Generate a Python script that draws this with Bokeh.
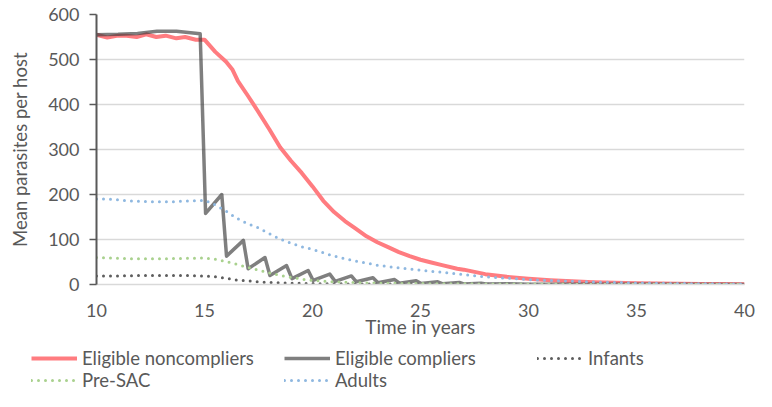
from bokeh.plotting import figure
from bokeh.models import Range1d, FixedTicker, Legend, LegendItem
from bokeh.layouts import column, row
from bokeh.embed import file_html
from bokeh.resources import INLINE

# ---------------- data ----------------
t_noncomp = [10, 10.5, 11, 11.4, 11.86, 12.3, 12.77, 13.2, 13.7, 14.1, 14.6, 15, 15.5, 16, 16.3,
             16.55, 17, 17.3, 18, 18.5, 19, 19.5, 20, 20.5, 21, 21.5, 22, 22.5, 23, 23.5, 24,
             24.5, 25, 25.5, 26, 26.7, 27, 28, 29, 30, 31, 32, 33, 34, 35, 36, 37, 38, 39, 40]
noncomp = [555, 549, 553, 553, 550, 556, 550, 553, 547, 550, 544, 544, 517, 495, 477,
           452, 420, 398, 345, 305, 275, 248, 218, 186, 161, 141, 124, 107, 94, 83, 72,
           63, 55, 49, 43, 35, 33, 23, 17, 13, 9.5, 7, 5, 4, 3, 2.3, 1.8, 1.3, 1, 0.8]

t_comp = [10, 11, 11.9, 12.8, 13.7, 14.8, 15.05, 15.8, 16.02, 16.8, 17.02, 17.8, 18.03, 18.8,
          19.05, 19.8, 20.03, 20.8, 21.05, 21.8, 22.03, 22.8, 23.03, 23.8, 24.03, 24.8, 25.03,
          25.8, 26.03, 26.8, 27.03, 27.8, 28.03, 29, 30, 32, 35, 40]
comp = [555, 556, 558, 563, 563, 557, 158, 200, 63, 98, 35, 60, 20, 42,
        13, 31, 9, 23, 7, 19, 6, 15, 4, 11, 3, 8.5, 2,
        6, 1.5, 4.5, 1, 3, 1, 1.5, 0.8, 0.5, 0.3, 0.2]

t_inf = [10, 11, 12, 13, 14, 15, 15.5, 16, 16.5, 17, 17.5, 18, 19, 20, 22, 25, 30, 35, 40]
infants = [19, 19, 20, 20, 20, 19, 17, 14, 10, 8, 6, 4.5, 3, 2, 1.2, 0.8, 0.5, 0.3, 0.2]

t_presac = [10, 11, 12, 13, 14, 15, 15.5, 16, 16.5, 17, 17.5, 18, 18.5, 19, 19.5, 20, 21, 22,
            23, 24, 25, 27, 30, 35, 40]
presac = [60, 58, 57, 57, 58, 59, 56, 51, 45, 38, 32, 26, 20, 16, 12, 9, 6, 4,
          3, 2.5, 2, 1.5, 1, 0.5, 0.3]

t_adult = [10, 10.5, 11, 11.5, 12, 12.5, 13, 13.5, 14, 14.5, 15, 15.5, 16, 16.5, 17, 17.5, 18,
           18.5, 19, 19.5, 20, 21, 22, 23, 24, 25, 26, 27, 28, 29, 30, 31, 32, 33, 34, 35, 36,
           37, 38, 39, 40]
adults = [190, 190, 188, 186, 185, 184, 184, 184, 185, 186, 187, 177, 163, 147, 135, 126, 113,
          101, 92, 84, 78, 63, 52, 43, 37, 32, 27, 22, 17, 14, 11, 9, 7, 5.5, 4.5, 3.5, 2.8,
          2.2, 1.7, 1.3, 1]

x_ticks = [10, 15, 20, 25, 30, 35, 40]
y_ticks = [0, 100, 200, 300, 400, 500, 600]

FONT = "Lato"
TXT = "#595959"

STYLES = {
    "Eligible noncompliers": dict(line_color="#FF7C80", line_width=4, line_join="round"),
    "Eligible compliers": dict(line_color="#3A3A3A", line_alpha=0.65, line_width=3.5,
                               line_join="round"),
    "Infants": dict(line_color="#5E5E5E", line_width=3, line_dash="0 7", line_cap="round"),
    "Pre-SAC": dict(line_color="#A9D18E", line_width=3, line_dash="0 7", line_cap="round"),
    "Adults": dict(line_color="#8FB8E0", line_width=3, line_dash="0 7", line_cap="round"),
}

series = [("Eligible noncompliers", t_noncomp, noncomp),
          ("Eligible compliers", t_comp, comp),
          ("Infants", t_inf, infants),
          ("Pre-SAC", t_presac, presac),
          ("Adults", t_adult, adults)]

# ---------------- main chart ----------------
p = figure(width=756, height=340, output_backend="svg", toolbar_location=None,
           x_range=Range1d(10, 40), y_range=Range1d(0, 600),
           min_border_left=96, min_border_right=12, min_border_top=14, min_border_bottom=56)
p.outline_line_color = None
p.background_fill_color = "white"
p.border_fill_color = "white"

p.xgrid.grid_line_color = None
p.ygrid.grid_line_color = "#D9D9D9"
p.ygrid.grid_line_width = 1.5
p.ygrid.ticker = FixedTicker(ticks=y_ticks)

p.yaxis.ticker = FixedTicker(ticks=y_ticks)
p.yaxis.axis_line_color = "#595959"
p.yaxis.axis_line_width = 2
p.yaxis.major_tick_line_color = "#595959"
p.yaxis.major_tick_line_width = 1.5
p.yaxis.major_tick_out = 7
p.yaxis.major_tick_in = 0
p.yaxis.minor_tick_line_color = None
p.yaxis.major_label_standoff = 10
p.yaxis.major_label_text_font = FONT
p.yaxis.major_label_text_font_size = "18px"
p.yaxis.major_label_text_color = TXT
p.yaxis.axis_label = "Mean parasites per host"
p.yaxis.axis_label_text_font = FONT
p.yaxis.axis_label_text_font_size = "18.5px"
p.yaxis.axis_label_text_font_style = "normal"
p.yaxis.axis_label_text_color = TXT
p.yaxis.axis_label_standoff = 14

p.xaxis.ticker = FixedTicker(ticks=x_ticks)
p.xaxis.axis_line_color = "#D9D9D9"
p.xaxis.axis_line_width = 1.5
p.xaxis.major_tick_line_color = None
p.xaxis.minor_tick_line_color = None
p.xaxis.major_tick_out = 0
p.xaxis.major_tick_in = 0
p.xaxis.major_label_standoff = 19
p.xaxis.major_label_text_font = FONT
p.xaxis.major_label_text_font_size = "18px"
p.xaxis.major_label_text_color = TXT
p.xaxis.axis_label = "Time in years"
p.xaxis.axis_label_text_font = FONT
p.xaxis.axis_label_text_font_size = "19px"
p.xaxis.axis_label_text_font_style = "normal"
p.xaxis.axis_label_text_color = TXT
p.xaxis.axis_label_standoff = -5

for name, xs, ys in series:
    p.line(xs, ys, **STYLES[name])

# ---------------- legend strip below the chart ----------------
# its ranges keep the (real) series out of view: only their legend swatches show
lf = figure(width=756, height=51, output_backend="svg", toolbar_location=None,
            x_range=Range1d(-2, -1), y_range=Range1d(-2, -1),
            x_axis_location=None, y_axis_location=None,
            min_border_left=0, min_border_right=0, min_border_top=0, min_border_bottom=0)
lf.outline_line_color = None
lf.xgrid.grid_line_color = None
lf.ygrid.grid_line_color = None
lf.background_fill_color = "white"
lf.border_fill_color = "white"

proxies = {name: lf.line(xs, ys, **STYLES[name]) for name, xs, ys in series}


def make_legend(names, loc):
    lg = Legend(items=[LegendItem(label=n, renderers=[proxies[n]]) for n in names],
                orientation="horizontal", location=loc)
    lg.label_text_font = FONT
    lg.label_text_font_size = "18.5px"
    lg.label_text_color = TXT
    lg.glyph_width = 46
    lg.glyph_height = 20
    lg.label_height = 20
    lg.label_width = 202
    lg.label_standoff = 5
    lg.spacing = 0
    lg.padding = 0
    lg.margin = 0
    lg.border_line_color = None
    lg.background_fill_alpha = 0
    return lg


lf.add_layout(make_legend(["Eligible noncompliers", "Eligible compliers", "Infants"], (31, 22)),
              "center")
lf.add_layout(make_legend(["Pre-SAC", "Adults"], (31, 0)), "center")

layout = column(p, row(lf, spacing=0), spacing=0)
open("out.html", "w").write(file_html(layout, INLINE))
